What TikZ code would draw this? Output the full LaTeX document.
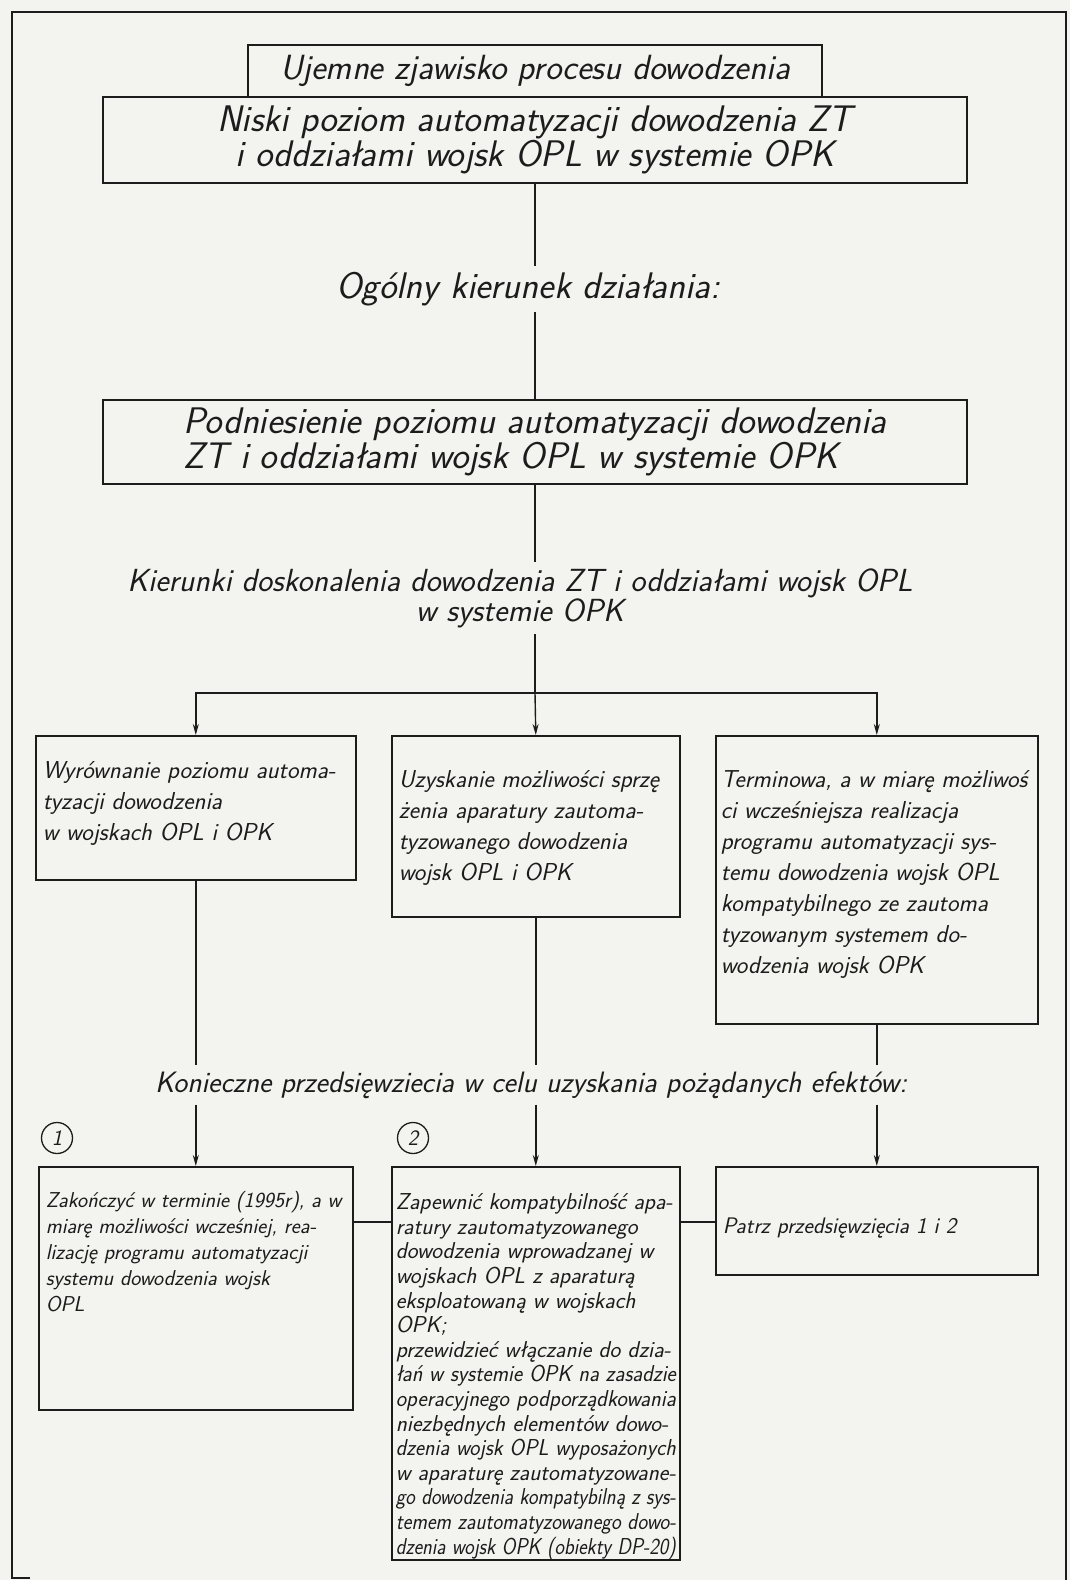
\documentclass[tikz,border=0pt]{standalone}
\usepackage{fontspec}
\usepackage{graphicx}
\usetikzlibrary{arrows.meta}
\definecolor{paper}{RGB}{243,243,239}
\definecolor{ink}{RGB}{28,28,28}
\newcommand{\toppar}[4]{\parbox[c][#2][t]{#1}{\vspace*{#3}\raggedright #4}}
\newcommand{\squeeze}[1]{\resizebox{\linewidth}{\height}{#1}}
\tikzset{
  bigbox/.style={draw=ink, line width=1.6pt, inner sep=0pt, text=ink},
  smallbox/.style={draw=ink, line width=1.6pt, inner xsep=7pt, inner ysep=0pt, anchor=north west, text=ink},
  heading/.style={inner sep=6pt, align=center, text=ink},
  wire/.style={draw=ink, line width=1.4pt},
  arrowwire/.style={wire, -{Stealth[length=11pt, width=6pt]}},
  numcircle/.style={circle, draw=ink, line width=1.3pt, minimum size=31pt, inner sep=0pt, text=ink}
}
\begin{document}
\begin{tikzpicture}[x=1pt, y=-1pt]
  \path[use as bounding box, fill=paper] (0,0) rectangle (1070,1580);
  \draw[ink, line width=2.6pt] (30,1578) -- (12,1578) -- (12,12) -- (1066,12) -- (1066,1580);
  \begin{scope}[line join = miter]
    \def\mainfont{\sffamily\itshape\fontsize{37}{35}\selectfont}
    \def\cellfont{\sffamily\itshape\fontsize{24.5}{31}\selectfont}
    \def\notefont{\sffamily\itshape\fontsize{21.5}{26}\selectfont}
    \def\densefont{\sffamily\itshape\fontsize{23}{24.6}\selectfont}
    \node[bigbox, font=\sffamily\itshape\fontsize{35}{38}\selectfont, minimum width=574pt, minimum height=52pt] (ujemne) at (535,71) {Ujemne zjawisko procesu dowodzenia};
    \node[bigbox, font=\mainfont, align=center, minimum width=864pt, minimum height=86pt, fill=paper] (niski) at (535,140) {Niski poziom automatyzacji dowodzenia ZT\\ i oddziałami wojsk OPL w systemie OPK};
    \node[heading, font=\mainfont] (ogolny) at (528,289) {Ogólny kierunek działania:};
    \node[bigbox, font=\sffamily\itshape\fontsize{37}{33}\selectfont, align=left, minimum width=864pt, minimum height=84pt] (podniesienie) at (535,442) {Podniesienie poziomu automatyzacji dowodzenia\\ZT i oddziałami wojsk OPL w systemie OPK};
    \node[heading, font=\sffamily\itshape\fontsize{32}{30}\selectfont] (kierunki) at (520,598) {Kierunki doskonalenia dowodzenia ZT i oddziałami wojsk OPL\\w systemie OPK};
    \coordinate (split) at (535,693);
    \node[smallbox, font=\cellfont] (wyrownanie) at (35,735) {\toppar{306pt}{144pt}{26pt}{Wyrównanie poziomu automa-\\tyzacji dowodzenia\\w wojskach OPL i OPK}};
    \node[smallbox, font=\cellfont] (uzyskanie) at (391,735) {\toppar{274pt}{181pt}{35pt}{Uzyskanie możliwości sprzę\\żenia aparatury zautoma-\\tyzowanego dowodzenia\\wojsk OPL i OPK}};
    \node[smallbox, font=\cellfont, inner xsep=5pt] (terminowa) at (715,735) {\toppar{312pt}{288pt}{35pt}{Terminowa, a w miarę możliwoś\\ci wcześniejsza realizacja\\programu automatyzacji sys-\\temu dowodzenia wojsk OPL\\kompatybilnego ze zautoma\\tyzowanym systemem do-\\wodzenia wojsk OPK}};
    \node[heading, font=\sffamily\itshape\fontsize{29.5}{30}\selectfont] (konieczne) at (531,1085) {Konieczne przedsięwziecia w celu uzyskania pożądanych efektów:};
    \node[numcircle, font=\sffamily\itshape\fontsize{22}{24}\selectfont] (nr1) at (57,1138) {1};
    \node[numcircle, font=\sffamily\itshape\fontsize{22}{24}\selectfont] (nr2) at (413,1138) {2};
    \node[smallbox, font=\notefont] (zakonczyc) at (38,1166) {\toppar{300pt}{243pt}{25pt}{Zakończyć w terminie (1995r), a w\\miarę możliwości wcześniej, rea-\\lizację programu automatyzacji\\systemu dowodzenia wojsk\\OPL}};
    \node[smallbox, font=\densefont, inner xsep=4pt] (zapewnic) at (391,1166) {\toppar{280pt}{393pt}{27pt}{Zapewnić kompatybilność apa-\\ratury zautomatyzowanego\\dowodzenia wprowadzanej w\\wojskach OPL z aparaturą\\eksploatowaną w wojskach\\OPK;\\przewidzieć włączanie do dzia-\\\squeeze{łań w systemie OPK na zasadzie}\\\squeeze{operacyjnego podporządkowania}\\niezbędnych elementów dowo-\\\squeeze{dzenia wojsk OPL wyposażonych}\\w aparaturę zautomatyzowane-\\\squeeze{go dowodzenia kompatybilną z sys-}\\\squeeze{temem zautomatyzowanego dowo-}\\\squeeze{dzenia wojsk OPK (obiekty DP-20)}}};
    \node[smallbox, font=\sffamily\itshape\fontsize{22.5}{26}\selectfont] (patrz) at (715,1166) {\toppar{308pt}{108pt}{51pt}{Patrz przedsięwzięcia 1 i 2}};
    \coordinate (side) at (0,1222);
    \draw[wire] (niski.south) -- (niski.south |- ogolny.north);
    \draw[wire] (podniesienie.north |- ogolny.south) -- (podniesienie.north);
    \draw[wire] (podniesienie.south) -- (podniesienie.south |- kierunki.north);
    \draw[wire] (split |- kierunki.south) -- (split);
    \draw[arrowwire] (split) -| (wyrownanie.north);
    \draw[arrowwire] (split) -- (uzyskanie.north);
    \draw[arrowwire] (split) -| (terminowa.north);
    \draw[wire] (wyrownanie.south) -- (wyrownanie.south |- konieczne.north);
    \draw[wire] (uzyskanie.south) -- (uzyskanie.south |- konieczne.north);
    \draw[wire] (terminowa.south) -- (terminowa.south |- konieczne.north);
    \draw[arrowwire] (zakonczyc.north |- konieczne.south) -- (zakonczyc.north);
    \draw[arrowwire] (zapewnic.north |- konieczne.south) -- (zapewnic.north);
    \draw[arrowwire] (patrz.north |- konieczne.south) -- (patrz.north);
    \draw[wire] (zakonczyc.east |- side) -- (zapewnic.west |- side);
    \draw[wire] (zapewnic.east |- side) -- (patrz.west |- side);
  \end{scope}
\end{tikzpicture}
\end{document}
